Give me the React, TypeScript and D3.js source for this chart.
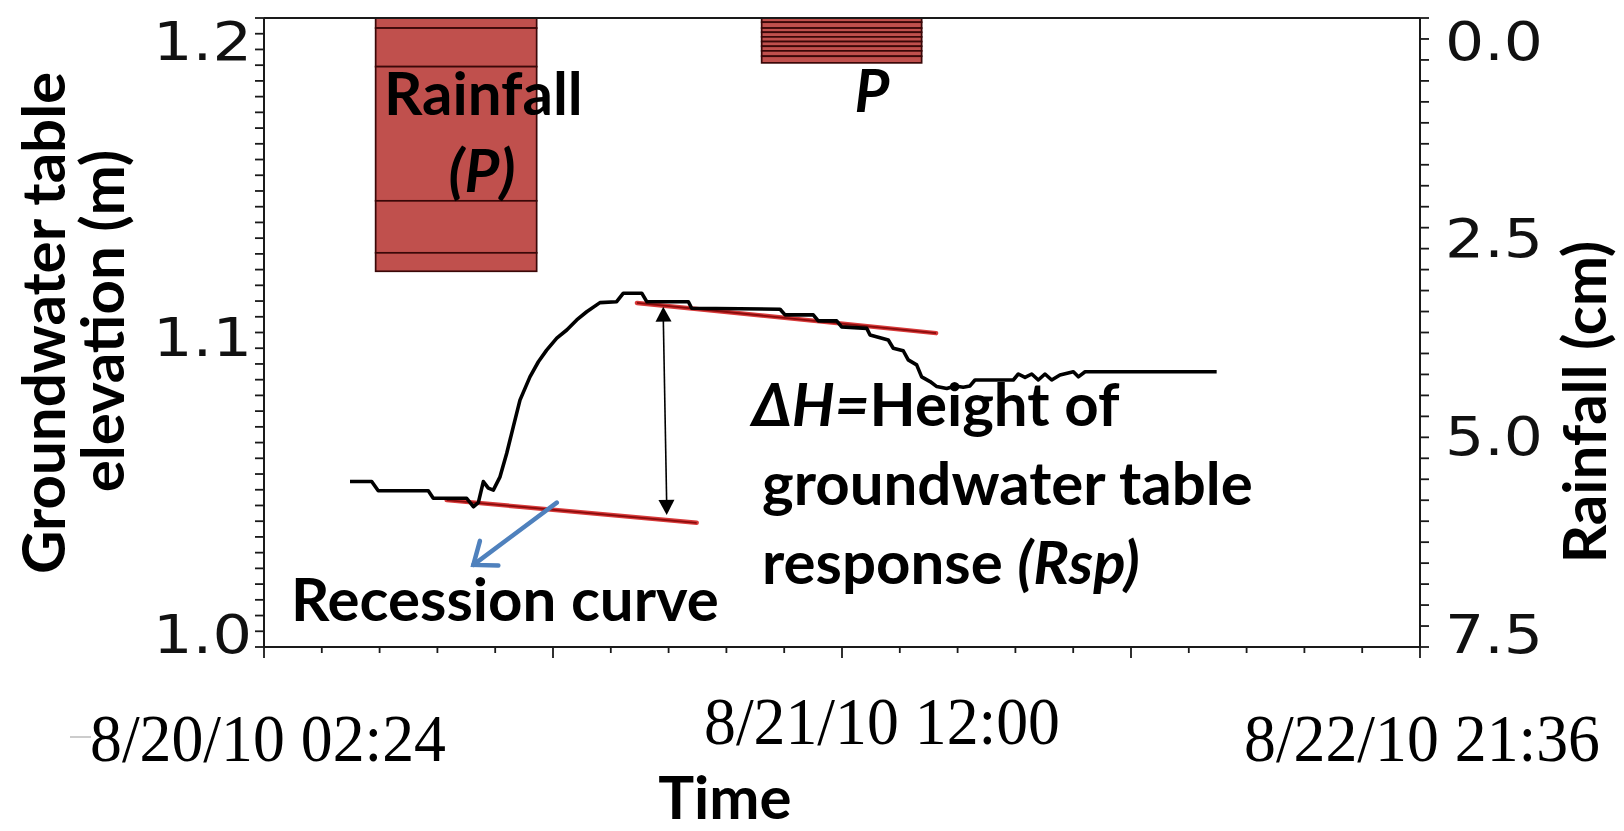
import React from "react";
import * as d3 from "d3";

// ---------- data ----------
const START = new Date(2010, 7, 20, 2, 24);
const END = new Date(2010, 7, 22, 21, 36);

// groundwater table elevation (m) vs hours after 8/20/10 02:24
const gwHours = [5.0, 6.26, 6.64, 9.55, 9.84, 11.78, 12.17, 12.46, 12.75, 13.04, 13.33, 13.72, 14.11, 14.49, 14.88, 15.46, 15.95, 16.43, 17.02, 17.6, 18.18, 18.76, 19.53, 20.5, 20.89, 21.96, 22.25, 24.67, 24.86, 30.0, 30.29, 31.93, 32.22, 33.29, 33.58, 35.04, 35.23, 36.29, 36.58, 37.16, 37.45, 37.94, 38.23, 38.72, 39.11, 39.69, 40.17, 40.65, 41.04, 41.33, 43.56, 43.85, 44.24, 44.63, 45.01, 45.4, 45.79, 46.27, 47.05, 47.34, 47.73, 55.38];
const gwElev = [1.0526, 1.0526, 1.0497, 1.0497, 1.0473, 1.0473, 1.0446, 1.0459, 1.0526, 1.0505, 1.0499, 1.0541, 1.0616, 1.07, 1.0785, 1.0859, 1.0907, 1.0944, 1.0982, 1.1008, 1.104, 1.1066, 1.1095, 1.1098, 1.1125, 1.1125, 1.1098, 1.1098, 1.1077, 1.1074, 1.1056, 1.1056, 1.1037, 1.1037, 1.1018, 1.1013, 1.0992, 1.0976, 1.095, 1.0942, 1.0913, 1.0897, 1.0859, 1.0844, 1.0828, 1.0822, 1.083, 1.0826, 1.083, 1.0849, 1.0849, 1.0868, 1.0857, 1.0868, 1.0849, 1.0868, 1.0849, 1.0865, 1.0875, 1.0859, 1.0875, 1.0875];

// rainfall events (stacked increments, cm)
const rainStartHours = [6.49, 28.93];
const rainEndHours = [15.85, 38.23];
const rainEvent1 = [0.12, 0.46, 1.6, 0.62, 0.22];
const rainEvent2 = [0.05, 0.07, 0.05, 0.055, 0.056, 0.056, 0.055, 0.064, 0.079];
const rainEvents = [rainEvent1, rainEvent2];

// recession curves
const recessionLowHours = [10.62, 25.15];
const recessionLowElev = [1.0467, 1.0395];
const recessionHighHours = [21.68, 39.07];
const recessionHighElev = [1.1094, 1.0998];

// ΔH double arrow
const deltaHHours = [23.21, 23.41];
const deltaHElev = [1.1082, 1.042];

// pointer arrow to "Recession curve"
const pointerHours = [17.02, 12.17];
const pointerElev = [1.0459, 1.0261];

// ticks
const leftTickValues = [1.2, 1.1, 1.0];
const leftTickLabels = ["1.2", "1.1", "1.0"];
const rightTickValues = [0, 2.5, 5.0, 7.5];
const rightTickLabels = ["0.0", "2.5", "5.0", "7.5"];
const timeTickHours = [0, 33.6, 67.2];
const timeTickLabels = ["8/20/10 02:24", "8/21/10 12:00", "8/22/10 21:36"];

// ---------- layout ----------
const W = 1624;
const H = 831;
const L = 264, R = 1420, T = 18, B = 647;
const BOLD = "Lato, 'Open Sans', sans-serif";
const TICKFONT = "'DejaVu Sans', Verdana, sans-serif";
const SERIF = "'Liberation Serif', 'Times New Roman', serif";
const FS = 60;
const timeLabelDx = [4, 40, 2];
const timeLabelBaseline = [761, 744, 761];

const toDate = (h: number) => new Date(START.getTime() + h * 3600 * 1000);

export default function App() {
  const x = d3.scaleTime().domain([START, END]).range([L, R]);
  const y = d3.scaleLinear().domain([1.0, 1.2]).range([B, T]);
  const r = d3.scaleLinear().domain([0, 7.5]).range([T, B]);
  const yLab = d3.scaleLinear().domain([1.0, 1.2]).range([634, 41]);
  const rLab = d3.scaleLinear().domain([0, 7.5]).range([41, 634]);

  const yMinor = d3.range(0, 41).map((i) => 1.0 + i * 0.005);
  const rMinor = d3.range(0, 31).map((i) => i * 0.25);
  const xMinor = d3.range(0, 21).map((i) => i);

  const gwLine = d3
    .line<number>()
    .x((_, i) => x(toDate(gwHours[i])))
    .y((d) => y(d))(gwElev) as string;

  const bars = rainEvents.flatMap((ev, k) => {
    const cum = Array.from(d3.cumsum(ev));
    return ev.map((v, j) => ({
      key: `${k}-${j}`,
      x0: x(toDate(rainStartHours[k])),
      x1: x(toDate(rainEndHours[k])),
      yTop: r(cum[j] - v),
      yBot: r(cum[j]),
    }));
  });

  const recLines = [
    [recessionLowHours, recessionLowElev],
    [recessionHighHours, recessionHighElev],
  ].map(([hs, es]) => ({
    x1: x(toDate(hs[0])),
    y1: y(es[0]),
    x2: x(toDate(hs[1])),
    y2: y(es[1]),
  }));

  // ΔH arrow
  const dTop = { x: x(toDate(deltaHHours[0])), y: y(deltaHElev[0]) };
  const dBot = { x: x(toDate(deltaHHours[1])), y: y(deltaHElev[1]) };
  const headLen = 15, headHalf = 8;
  const arrowHead = (tip: { x: number; y: number }, from: { x: number; y: number }) => {
    const ang = Math.atan2(from.y - tip.y, from.x - tip.x);
    const bx = tip.x + headLen * Math.cos(ang);
    const by = tip.y + headLen * Math.sin(ang);
    const px = -Math.sin(ang) * headHalf;
    const py = Math.cos(ang) * headHalf;
    return `M${tip.x},${tip.y}L${bx + px},${by + py}L${bx - px},${by - py}Z`;
  };

  // pointer arrow
  const pStart = { x: x(toDate(pointerHours[0])), y: y(pointerElev[0]) };
  const pTip = { x: x(toDate(pointerHours[1])), y: y(pointerElev[1]) };
  const pAng = Math.atan2(pStart.y - pTip.y, pStart.x - pTip.x);
  const pHead = 25;
  const pSpread = (38 * Math.PI) / 180;
  const ph1 = { x: pTip.x + pHead * Math.cos(pAng - pSpread), y: pTip.y + pHead * Math.sin(pAng - pSpread) };
  const ph2 = { x: pTip.x + pHead * Math.cos(pAng + pSpread), y: pTip.y + pHead * Math.sin(pAng + pSpread) };

  const axisColor = "#1a1a1a";

  return (
    <svg
      width={W}
      height={H}
      style={{ position: "fixed", left: 0, top: 0, background: "#fff" }}
      xmlns="http://www.w3.org/2000/svg"
    >
      <rect x={0} y={0} width={W} height={H} fill="#fff" />

      {/* rainfall bars */}
      {bars.map((b) => (
        <rect
          key={b.key}
          x={b.x0}
          y={b.yTop}
          width={b.x1 - b.x0}
          height={b.yBot - b.yTop}
          fill="#C0504D"
          stroke="#3a0808"
          strokeWidth={1.7}
        />
      ))}

      {/* recession lines */}
      {recLines.map((l, i) => (
        <g key={i}>
          <line x1={l.x1} y1={l.y1} x2={l.x2} y2={l.y2} stroke="#d83a3a" strokeWidth={4.5} strokeLinecap="round" />
          <line x1={l.x1} y1={l.y1} x2={l.x2} y2={l.y2} stroke="#8a0c0c" strokeWidth={1.8} />
        </g>
      ))}

      {/* groundwater line */}
      <path d={gwLine} fill="none" stroke="#000" strokeWidth={3.6} strokeLinejoin="round" />

      {/* ΔH arrow */}
      <line x1={dTop.x} y1={dTop.y + 10} x2={dBot.x} y2={dBot.y - 10} stroke="#000" strokeWidth={1.6} />
      <path d={arrowHead(dTop, dBot)} fill="#000" />
      <path d={arrowHead(dBot, dTop)} fill="#000" />

      {/* pointer arrow */}
      <g stroke="#4F81BD" strokeWidth={4.5} strokeLinecap="round" fill="none">
        <line x1={pStart.x} y1={pStart.y} x2={pTip.x} y2={pTip.y} />
        <polyline points={`${ph1.x},${ph1.y} ${pTip.x},${pTip.y} ${ph2.x},${ph2.y}`} strokeLinejoin="miter" />
      </g>

      {/* frame / axes */}
      <line x1={L} y1={T} x2={R} y2={T} stroke={axisColor} strokeWidth={2} />
      <line x1={L} y1={T} x2={L} y2={B} stroke={axisColor} strokeWidth={2} />
      <line x1={R} y1={T} x2={R} y2={B} stroke={axisColor} strokeWidth={2} />
      <line x1={L} y1={B} x2={R} y2={B} stroke={axisColor} strokeWidth={2} />

      {yMinor.map((v, i) => (
        <line key={"yl" + i} x1={L - 9} x2={L} y1={y(v)} y2={y(v)} stroke={axisColor} strokeWidth={1.8} />
      ))}
      {rMinor.map((v, i) => (
        <line key={"rl" + i} x1={R} x2={R + 9} y1={r(v)} y2={r(v)} stroke={axisColor} strokeWidth={1.8} />
      ))}
      {xMinor.map((i) => {
        const xv = x(toDate(i * 3.36));
        return (
          <line
            key={"xl" + i}
            x1={xv}
            x2={xv}
            y1={B}
            y2={B + (i % 5 === 0 ? 11 : 6)}
            stroke={axisColor}
            strokeWidth={1.8}
          />
        );
      })}

      {/* left tick labels */}
      {leftTickValues.map((v, i) => (
        <text
          key={"ylab" + i}
          x={252}
          y={yLab(v)}
          textAnchor="end"
          dominantBaseline="central"
          fontFamily={TICKFONT}
          fontSize={54}
          textLength={99}
          lengthAdjust="spacingAndGlyphs"
          fill="#111"
        >
          {leftTickLabels[i]}
        </text>
      ))}
      {/* right tick labels */}
      {rightTickValues.map((v, i) => (
        <text
          key={"rlab" + i}
          x={1445}
          y={rLab(v)}
          textAnchor="start"
          dominantBaseline="central"
          fontFamily={TICKFONT}
          fontSize={54}
          textLength={98}
          lengthAdjust="spacingAndGlyphs"
          fill="#111"
        >
          {rightTickLabels[i]}
        </text>
      ))}
      {/* time labels */}
      <line x1={70} x2={91} y1={737} y2={737} stroke="#bbb" strokeWidth={1.5} />
      {timeTickHours.map((h, i) => (
        <text
          key={"tlab" + i}
          x={x(toDate(h)) + timeLabelDx[i]}
          y={timeLabelBaseline[i]}
          textAnchor="middle"
          fontFamily={SERIF}
          fontSize={68}
          textLength={356}
          lengthAdjust="spacingAndGlyphs"
          fill="#000"
        >
          {timeTickLabels[i]}
        </text>
      ))}

      {/* axis titles */}
      <text x={725} y={819} textAnchor="middle" fontFamily={BOLD} fontWeight={700} fontSize={FS} fill="#000">
        Time
      </text>
      <text
        transform="translate(65,323) rotate(-90)"
        textAnchor="middle"
        fontFamily={BOLD}
        fontWeight={700}
        fontSize={FS}
        fill="#000"
      >
        Groundwater table
      </text>
      <text
        transform="translate(124,321) rotate(-90)"
        textAnchor="middle"
        fontFamily={BOLD}
        fontWeight={700}
        fontSize={FS}
        fill="#000"
      >
        elevation (m)
      </text>
      <text
        transform="translate(1606,402) rotate(-90)"
        textAnchor="middle"
        fontFamily={BOLD}
        fontWeight={700}
        fontSize={FS}
        fill="#000"
      >
        Rainfall (cm)
      </text>

      {/* annotations */}
      <text x={384} y={115} fontFamily={BOLD} fontWeight={700} fontSize={FS} fill="#000">
        Rainfall
      </text>
      <text x={482} y={192} textAnchor="middle" fontFamily={BOLD} fontWeight={700} fontStyle="italic" fontSize={FS} fill="#000">
        (P)
      </text>
      <text x={872} y={112} textAnchor="middle" fontFamily={BOLD} fontWeight={700} fontStyle="italic" fontSize={FS} fill="#000">
        P
      </text>
      <text x={752} y={426} fontFamily={BOLD} fontWeight={700} fontSize={FS} fill="#000">
        <tspan fontStyle="italic">ΔH=</tspan>
        <tspan>Height of</tspan>
      </text>
      <text x={762} y={505} fontFamily={BOLD} fontWeight={700} fontSize={FS} fill="#000">
        groundwater table
      </text>
      <text x={762} y={584} fontFamily={BOLD} fontWeight={700} fontSize={FS} fill="#000">
        <tspan>response </tspan>
        <tspan fontStyle="italic">(Rsp)</tspan>
      </text>
      <text x={291} y={621} fontFamily={BOLD} fontWeight={700} fontSize={FS} fill="#000">
        Recession curve
      </text>
    </svg>
  );
}
